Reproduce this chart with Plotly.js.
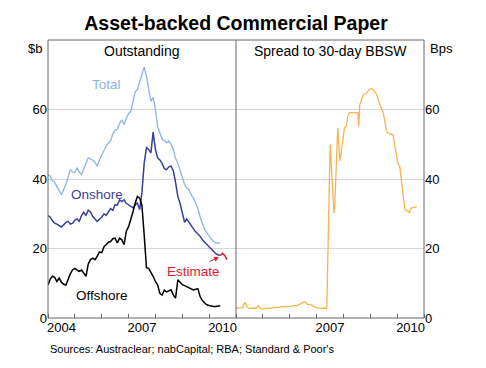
<!DOCTYPE html>
<html>
<head>
<meta charset="utf-8">
<script src="https://cdn.plot.ly/plotly-3.0.1.min.js"></script>
<style>html,body{margin:0;padding:0;background:#fff;}#chart{width:486px;height:368px;}</style>
</head>
<body>
<div id="chart"></div>
<script>
// ---- Data (monthly, starting January 2004) ----
const outstandingStart = [2004, 1];
const total = [41.3,40.8,39.5,39.0,37.8,36.5,35.5,37.0,38.5,40.5,42.7,42.0,
  41.8,43.2,42.0,41.3,42.7,44.5,46.1,45.8,45.4,44.8,43.7,45.5,
  47.0,48.3,49.5,50.3,51.0,53.0,54.0,54.3,56.0,57.0,55.7,57.5,
  58.8,59.5,62.5,65.0,65.8,68.0,70.5,72.2,69.5,66.0,62.3,63.5,
  60.0,55.0,53.0,51.5,51.0,50.4,51.0,50.0,48.5,46.0,44.5,42.5,
  40.5,38.5,37.4,37.0,35.5,34.5,33.0,31.5,29.0,27.0,25.5,24.4,
  23.5,22.5,22.0,21.7,21.5,21.7];
const onshore = [29.5,29.0,28.0,27.3,27.0,26.5,26.2,26.8,27.5,27.8,27.0,27.3,
  28.2,28.5,27.8,29.5,30.4,29.5,31.0,30.5,29.2,28.5,27.8,28.5,
  29.0,30.0,29.5,30.5,31.5,31.0,32.6,32.5,34.0,33.5,34.0,33.0,
  32.6,32.2,31.7,32.5,33.1,31.2,36.0,44.5,49.0,48.5,47.5,53.5,
  48.5,46.0,45.5,44.5,43.0,42.7,43.5,43.7,42.3,39.0,35.0,33.0,
  30.0,27.5,28.5,27.5,26.5,25.5,24.8,24.2,23.5,22.5,21.8,21.0,
  20.5,19.6,19.0,18.5,18.2,18.0];
const offshore = [9.5,11.2,12.0,11.7,10.5,11.5,10.3,9.7,9.5,11.3,12.8,13.9,
  14.3,13.8,13.4,13.8,13.0,12.0,15.5,16.8,17.2,16.8,17.8,19.0,
  18.8,20.5,21.1,21.8,22.0,22.8,23.0,21.6,23.0,22.5,21.1,25.0,
  26.3,28.3,30.5,33.0,35.0,34.5,32.5,24.0,14.5,14.3,13.2,12.0,
  10.5,9.5,7.1,6.6,8.0,7.5,7.8,8.1,6.6,5.7,11.0,10.2,
  9.6,9.3,9.0,8.7,8.4,8.1,8.3,8.4,6.1,5.0,4.3,3.8,
  3.6,3.4,3.3,3.3,3.3,3.5];
const estimateDates = ['2010-06-01','2010-07-01','2010-08-01','2010-09-01'];
const estimate = [18.0,18.6,18.0,16.8];

// Spread to 30-day BBSW (bps)
const spreadMonthlyStart = [2004, 1];
const spreadMonthly = [2.8,2.8,2.8,3.0,4.5,3.2,2.8,2.8,2.8,2.8,3.5,2.6,
  2.6,2.6,2.8,2.8,2.9,3.0,3.1,3.1,3.1,3.2,3.3,3.3,
  3.3,3.4,3.6,3.5,3.8,4.2,4.5,4.7,3.8,4.0,3.5,3.2,
  3.0,2.8,2.8,2.8,2.8];
const spreadLateDates = ['2007-05-20','2007-07-05','2007-08-05','2007-08-25','2007-09-05',
  '2007-10-15','2007-11-15','2007-12-01','2008-01-15','2008-02-10','2008-03-01','2008-03-25',
  '2008-06-25','2008-07-15','2008-07-28','2008-08-10','2008-09-01','2008-09-25','2008-11-10',
  '2008-12-01','2009-01-05','2009-02-05','2009-03-25','2009-04-15','2009-05-10','2009-06-25',
  '2009-08-10','2009-09-01','2009-10-15','2009-11-05','2009-12-01','2010-01-15','2010-02-05',
  '2010-03-01','2010-03-25','2010-04-15','2010-06-01','2010-06-15','2010-07-15','2010-09-25'];
const spreadLate = [2.8,49.9,36.0,30.2,32.0,
  54.7,45.1,48.0,54.7,55.2,58.1,59.1,
  59.1,59.1,55.2,61.5,62.5,64.4,64.6,
  65.3,66.0,65.8,64.4,62.9,61.5,59.1,
  53.8,53.1,52.8,52.8,49.4,44.2,43.7,
  39.8,35.5,31.2,30.7,30.2,31.7,32.0];

const yTicks = [0,20,40,60];
const yearAlias = {'2005':'','2006':'','2008':'','2009':''};
const yearAlias2 = {'2004':'','2005':'','2006':'','2008':'','2009':''};

function monthDates(start, n){
  const out=[];
  for(let i=0;i<n;i++){
    const m=start[1]-1+i;
    const y=start[0]+Math.floor(m/12);
    const mm=(m%12)+1;
    out.push(y+'-'+(mm<10?'0':'')+mm+'-01');
  }
  return out;
}
const months = monthDates(outstandingStart, total.length);
const spreadDates = monthDates(spreadMonthlyStart, spreadMonthly.length).concat(spreadLateDates);
const spread = spreadMonthly.concat(spreadLate);

const cTotal='#8db3e2', cOn='#3a3f98', cOff='#000000', cEst='#e3162e', cSpread='#f8b350';

const traces = [
  {x:months, y:total, type:'scatter', mode:'lines', line:{color:cTotal,width:1.3}, xaxis:'x', yaxis:'y', hoverinfo:'skip'},
  {x:months, y:onshore, type:'scatter', mode:'lines', line:{color:cOn,width:1.5}, xaxis:'x', yaxis:'y', hoverinfo:'skip'},
  {x:estimateDates, y:estimate, type:'scatter', mode:'lines', line:{color:cEst,width:1.5}, xaxis:'x', yaxis:'y', hoverinfo:'skip'},
  {x:months, y:offshore, type:'scatter', mode:'lines', line:{color:cOff,width:1.5}, xaxis:'x', yaxis:'y', hoverinfo:'skip'},
  {x:spreadDates, y:spread, type:'scatter', mode:'lines', line:{color:cSpread,width:1.3}, xaxis:'x2', yaxis:'y2', hoverinfo:'skip'}
];

const FONT='Liberation Sans, Arial, Helvetica, sans-serif';
const xCommon = {type:'date', range:['2004-01-01','2011-01-01'], dtick:'M12', tick0:'2004-01-01',
  ticklabelmode:'period', tickformat:'%Y', ticks:'inside', ticklen:4, tickcolor:'#666', tickwidth:1,
  showgrid:false, zeroline:false, showline:false, fixedrange:true, tickfont:{size:13,color:'#000'}};
const yCommon = {range:[0,80], tickmode:'array', tickvals:yTicks, ticks:'', showgrid:true, gridcolor:'#d6d6d6',
  gridwidth:1, zeroline:false, showline:false, fixedrange:true, tickfont:{size:13,color:'#000'}};

const layout = {
  width:486, height:368,
  margin:{l:48, r:62, t:40, b:50, pad:0},
  paper_bgcolor:'#ffffff', plot_bgcolor:'#ffffff',
  showlegend:false,
  font:{family:FONT, size:13, color:'#000'},
  title:{text:'<b>Asset-backed Commercial Paper</b>', font:{family:FONT, size:19.5, color:'#000'},
    x:0.5, xref:'paper', xanchor:'center', y:1-23/368, yref:'container', yanchor:'middle'},
  xaxis:Object.assign({}, xCommon, {domain:[0,0.5], anchor:'y', labelalias:yearAlias}),
  xaxis2:Object.assign({}, xCommon, {domain:[0.5,1], anchor:'y2', labelalias:yearAlias2}),
  yaxis:Object.assign({}, yCommon, {anchor:'x', side:'left'}),
  yaxis2:Object.assign({}, yCommon, {anchor:'x2', side:'right'}),
  shapes:[
    {type:'rect', xref:'paper', yref:'paper', x0:0, x1:1, y0:0, y1:1, line:{color:'#666', width:1}, layer:'above'},
    {type:'line', xref:'paper', yref:'paper', x0:0.5, x1:0.5, y0:0, y1:1, line:{color:'#666', width:1}, layer:'above'}
  ],
  annotations:[
    {text:'Outstanding', xref:'paper', yref:'paper', x:0.25, y:(318-51)/278, xanchor:'center', yanchor:'middle', showarrow:false, font:{size:14,color:'#000'}},
    {text:'Spread to 30-day BBSW', xref:'paper', yref:'paper', x:0.75, y:(318-51)/278, xanchor:'center', yanchor:'middle', showarrow:false, font:{size:14,color:'#000'}},
    {text:'$b', xref:'paper', yref:'paper', x:(35-48)/376, y:(318-48)/278, xanchor:'center', yanchor:'middle', showarrow:false, font:{size:13,color:'#000'}},
    {text:'Bps', xref:'paper', yref:'paper', x:(441-48)/376, y:(318-48)/278, xanchor:'center', yanchor:'middle', showarrow:false, font:{size:13,color:'#000'}},
    {text:'Total', xref:'x', yref:'y', x:'2006-03-12', y:67.2, xanchor:'center', yanchor:'middle', showarrow:false, font:{size:13.5,color:cTotal}},
    {text:'Onshore', xref:'x', yref:'y', x:'2005-11-03', y:35.5, xanchor:'center', yanchor:'middle', showarrow:false, font:{size:13.5,color:cOn}},
    {text:'Offshore', xref:'x', yref:'y', x:'2006-01-05', y:6.35, xanchor:'center', yanchor:'middle', showarrow:false, font:{size:13.5,color:'#000'}},
    {text:'Estimate', xref:'x', yref:'y', x:'2009-06-01', y:13.3, xanchor:'center', yanchor:'middle', showarrow:false, font:{size:13.5,color:cEst}},
    {text:'', xref:'x', yref:'y', x:'2010-05-15', y:17.5, ax:-11, ay:5, showarrow:true, arrowhead:2, arrowsize:1, arrowwidth:1, arrowcolor:cEst, standoff:0},
    {text:"Sources: Austraclear; nabCapital; RBA; Standard &amp; Poor's", xref:'paper', yref:'paper', x:0, y:(318-349)/278, xanchor:'left', yanchor:'middle', showarrow:false, font:{size:11,color:'#000'}}
  ]
};

Plotly.newPlot('chart', traces, layout, {staticPlot:true, displayModeBar:false});
</script>
</body>
</html>
